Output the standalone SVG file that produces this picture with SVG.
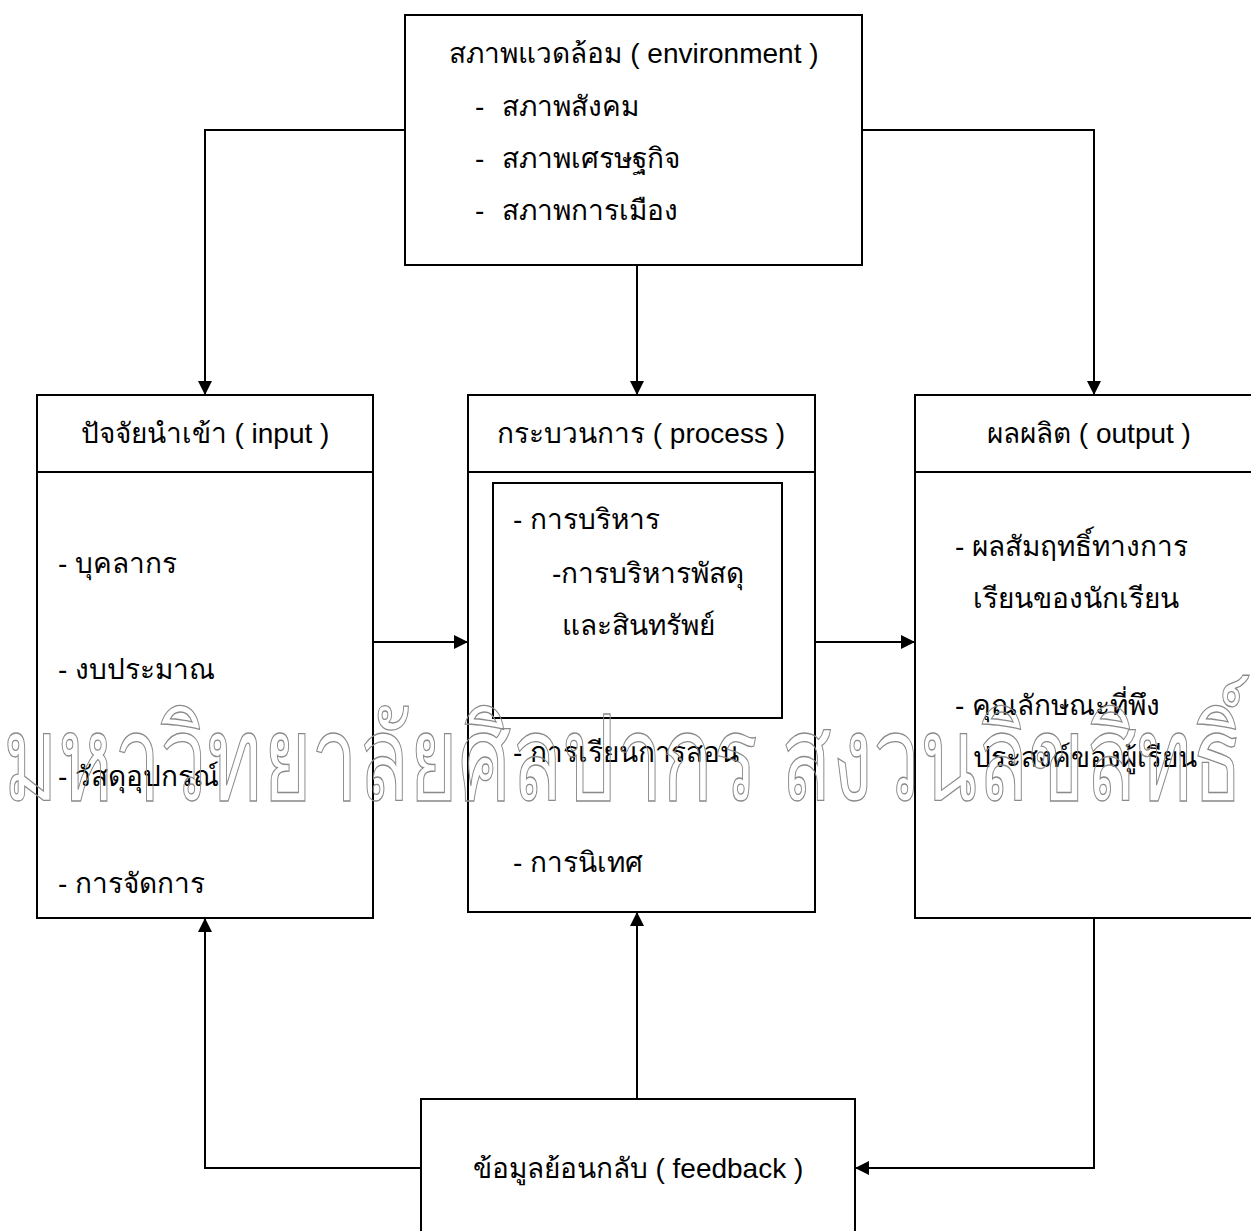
<svg xmlns="http://www.w3.org/2000/svg" width="1251" height="1231" viewBox="0 0 1251 1231">
<defs>
<marker id="arr" viewBox="0 0 10 10" refX="10" refY="5" markerWidth="15" markerHeight="14" markerUnits="userSpaceOnUse" orient="auto">
<path d="M0,0 L10,5 L0,10 z" fill="#000"/>
</marker>
</defs>
<style>
.box{fill:none;stroke:#000;stroke-width:2}
.ln{fill:none;stroke:#000;stroke-width:2}
.t{font-family:"Liberation Sans","DejaVu Sans","Noto Sans",sans-serif;font-size:28px;fill:#000}
.c{text-anchor:middle}
.wm{font-family:"Liberation Sans","DejaVu Sans","Noto Sans",sans-serif;font-size:118px;fill:none;stroke:#8a8a8a;stroke-width:1.3}
</style>
<rect width="1251" height="1231" fill="#fff"/>
<g id="connectors">
<polyline class="ln" points="405,130 205,130 205,395" marker-end="url(#arr)"/>
<line class="ln" x1="637" y1="265" x2="637" y2="395" marker-end="url(#arr)"/>
<polyline class="ln" points="862,130 1094,130 1094,395" marker-end="url(#arr)"/>
<line class="ln" x1="373" y1="642" x2="468" y2="642" marker-end="url(#arr)"/>
<line class="ln" x1="815" y1="642" x2="915" y2="642" marker-end="url(#arr)"/>
<polyline class="ln" points="421,1168 205,1168 205,918" marker-end="url(#arr)"/>
<line class="ln" x1="637" y1="1099" x2="637" y2="912" marker-end="url(#arr)"/>
<polyline class="ln" points="1094,918 1094,1168 855,1168" marker-end="url(#arr)"/>
</g>
<g id="environment">
<rect class="box" x="405" y="15" width="457" height="250"/>
<text class="t c" x="634" y="63">สภาพแวดล้อม ( environment )</text>
<text class="t" x="475" y="116">-</text><text class="t" x="502" y="116">สภาพสังคม</text>
<text class="t" x="475" y="168">-</text><text class="t" x="502" y="168">สภาพเศรษฐกิจ</text>
<text class="t" x="475" y="220">-</text><text class="t" x="502" y="220">สภาพการเมือง</text>
</g>
<g id="input">
<rect class="box" x="37" y="395" width="336" height="523"/>
<line class="ln" x1="37" y1="472" x2="373" y2="472"/>
<text class="t c" x="205" y="443">ปัจจัยนำเข้า ( input )</text>
<text class="t" x="58" y="573">- บุคลากร</text>
<text class="t" x="58" y="679">- งบประมาณ</text>
<text class="t" x="58" y="786">- วัสดุอุปกรณ์</text>
<text class="t" x="58" y="893">- การจัดการ</text>
</g>
<g id="process">
<rect class="box" x="468" y="395" width="347" height="517"/>
<line class="ln" x1="468" y1="472" x2="815" y2="472"/>
<text class="t c" x="641" y="443">กระบวนการ ( process )</text>
<rect class="box" x="493" y="483" width="289" height="235"/>
<text class="t" x="513" y="529">- การบริหาร</text>
<text class="t" x="552" y="583">-การบริหารพัสดุ</text>
<text class="t" x="562" y="635">และสินทรัพย์</text>
<text class="t" x="513" y="762">- การเรียนการสอน</text>
<text class="t" x="513" y="872">- การนิเทศ</text>
</g>
<g id="output">
<rect class="box" x="915" y="395" width="347" height="523"/>
<line class="ln" x1="915" y1="472" x2="1262" y2="472"/>
<text class="t c" x="1089" y="443">ผลผลิต ( output )</text>
<text class="t" x="955" y="556">- ผลสัมฤทธิ์ทางการ</text>
<text class="t" x="973" y="608">เรียนของนักเรียน</text>
<text class="t" x="955" y="715">- คุณลักษณะที่พึง</text>
<text class="t" x="973" y="767">ประสงค์ของผู้เรียน</text>
</g>
<g id="feedback">
<rect class="box" x="421" y="1099" width="434" height="150"/>
<text class="t c" x="638" y="1178">ข้อมูลย้อนกลับ ( feedback )</text>
</g>
<text class="wm" x="3" y="800" textLength="1240" lengthAdjust="spacingAndGlyphs">มหาวิทยาลัยศิลปากร สงวนลิขสิทธิ์</text>
</svg>
